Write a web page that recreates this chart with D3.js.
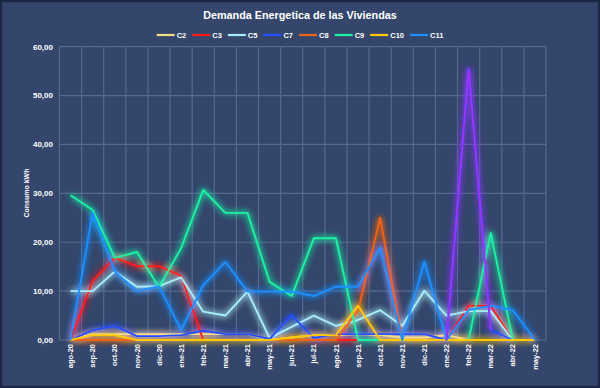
<!DOCTYPE html>
<html>
<head>
<meta charset="utf-8">
<script src="https://cdn.jsdelivr.net/npm/d3@7"></script>
<style>
  body { margin: 0; background: #34466b; }
  text { font-family: "Liberation Sans", Arial, sans-serif; }
</style>
</head>
<body>
<div id="chart"></div>
<script>
var width = 600
var height = 388

var months = ["ago-20","sep-20","oct-20","nov-20","dic-20","ene-21","feb-21","mar-21","abr-21","may-21","jun-21",
    "jul-21","ago-21","sep-21","oct-21","nov-21","dic-21","ene-22","feb-22","mar-22","abr-22","may-22"]
var seriesNames = ["C2","C3","C5","C7","C8","C9","C10","C11"]
var C2  = [0,1.2,1.2,1.2,1.2,1.2,1.2,1.2,1.2,0,0.5,1,1,1.2,1,0.5,0.5,1,0,0,0,0]
var C3  = [0,12.1,16.8,15.1,15.1,13.1,0,0,0,0,0,0,0,0,0,0,0,0,7,7,0,0]
var C5  = [10,10,14,10.9,11,12.8,5.8,5,9.9,0.4,2.7,5,2.9,4.1,6.1,2.9,10.1,5,5.9,5.9,0,0]
var C7  = [0,2,2.9,0.8,0.8,1,1.9,1.2,1.2,0.2,5.1,0.4,1.2,1.2,1.2,1.2,1.2,0,55.5,2,0,0]
var C8  = [0,0,0,0,0,0,0,0,0,0,0,0,0,6,25,0,0,0,0,0,0,0]
var C9  = [29.6,26.6,16.8,18,10.8,18.8,30.7,26,26,11.9,9,20.8,20.8,0,0,0,0,0,0,21.9,0,0]
var C10 = [0,1,1,0,0,0,0,0,0,0,0.5,1,1,7,0,0,0,0,0,0,0,0]
var C11 = [0,26,14,10,11,2,11.2,16,9.9,9.9,9.9,9,10.9,10.9,18.9,0,16,0,6.1,7,6.1,0]
var yTicks = [0,10,20,30,40,50,60]

var values = [C2, C3, C5, C7, C8, C9, C10, C11]
var colors = ["#f5dc86","#ff1a1a","#a8ecf8","#2250ff","#f06418","#1ff0a4","#ffc800","#1e8fff"]
// highlighted points of C7 (feb-22 spike) are drawn in purple
var C7highlight = ["ene-22","feb-22","mar-22"]

var svg = d3.select("#chart")
    .append("svg")
    .attr("width", width)
    .attr("height", height)

var defs = svg.append("defs")
var glow = defs.append("filter")
    .attr("id", "glow")
    .attr("filterUnits", "userSpaceOnUse")
    .attr("x", 0).attr("y", 0).attr("width", width).attr("height", height)
glow.append("feGaussianBlur").attr("in", "SourceGraphic").attr("stdDeviation", 3.4).attr("result", "b")
var merge = glow.append("feMerge")
merge.append("feMergeNode").attr("in", "b")
merge.append("feMergeNode").attr("in", "b")
merge.append("feMergeNode").attr("in", "SourceGraphic")

svg.append("rect")
    .attr("x", 1).attr("y", 1)
    .attr("width", width - 2).attr("height", height - 2)
    .style("fill", "#34466b")
    .style("stroke", "#1d2944")
    .style("stroke-width", 2.5)

var x = d3.scaleBand().domain(months).range([59.5, 546])
var y = d3.scaleLinear().domain([0, 60]).range([340, 46.7])
var cx = (m) => x(m) + x.bandwidth() / 2

// gridlines
var grid = svg.append("g").style("stroke", "#56698f").style("stroke-width", 1.2)
grid.selectAll(".h")
    .data(yTicks)
    .enter()
    .append("line")
        .attr("x1", 59.5).attr("x2", 546)
        .attr("y1", d => y(d)).attr("y2", d => y(d))
grid.selectAll(".v")
    .data(months.map(m => x(m)).concat([x(months[months.length - 1]) + x.bandwidth()]))
    .enter()
    .append("line")
        .attr("x1", d => d).attr("x2", d => d)
        .attr("y1", y(60)).attr("y2", y(0))

// y labels
svg.append("g")
    .selectAll("text")
    .data(yTicks)
    .enter()
    .append("text")
        .attr("x", 53)
        .attr("y", d => y(d))
        .attr("dy", "0.35em")
        .style("text-anchor", "end")
        .style("font-size", "8px")
        .style("font-weight", "bold")
        .style("fill", "#ffffff")
        .text(d => d3.format(".2f")(d).replace(".", ","))

// x labels
svg.append("g")
    .selectAll("text")
    .data(months)
    .enter()
    .append("text")
        .attr("transform", d => "translate(" + cx(d) + ",344) rotate(-90)")
        .attr("dy", "0.35em")
        .style("text-anchor", "end")
        .style("font-size", "7.5px")
        .style("font-weight", "bold")
        .style("fill", "#ffffff")
        .text(d => d)

svg.append("text")
    .attr("transform", "translate(27,193) rotate(-90)")
    .attr("dy", "0.35em")
    .style("text-anchor", "middle")
    .style("font-size", "7px")
    .style("font-weight", "bold")
    .style("fill", "#ffffff")
    .text("Consumo kWh")

svg.append("text")
    .attr("x", 300).attr("y", 19)
    .style("text-anchor", "middle")
    .style("font-size", "10.8px")
    .style("font-weight", "bold")
    .style("fill", "#ffffff")
    .text("Demanda Energetica de las Viviendas")

// lines
var line = d3.line()
    .x((d, i) => cx(months[i]))
    .y(d => y(d))

var lines = svg.append("g").attr("filter", "url(#glow)")
lines.selectAll("path")
    .data(values)
    .enter()
    .append("path")
        .attr("d", d => line(d))
        .style("fill", "none")
        .style("stroke", (d, i) => colors[i])
        .style("stroke-width", 1.9)
        .style("stroke-linejoin", "round")

lines.append("path")
    .attr("d", d3.line()
        .defined((d, i) => C7highlight.indexOf(months[i]) >= 0)
        .x((d, i) => cx(months[i]))
        .y(d => y(d))(C7))
    .style("fill", "none")
    .style("stroke", "#9a34ff")
    .style("stroke-width", 1.9)

// legend
var legend = svg.append("g")
var lx = 0
seriesNames.forEach((name, i) => {
    var g = legend.append("g").attr("transform", "translate(" + lx + ",0)")
    g.append("line")
        .attr("x1", 0).attr("x2", 18)
        .style("stroke", colors[i])
        .style("stroke-width", 2.2)
    var t = g.append("text")
        .attr("x", 20)
        .attr("dy", "0.35em")
        .style("font-size", "7.5px")
        .style("font-weight", "bold")
        .style("fill", "#ffffff")
        .text(name)
    lx += 20 + t.node().getComputedTextLength() + 6
})
legend.attr("transform", "translate(" + (300 - (lx - 6) / 2) + ",35)")
</script>
</body>
</html>
